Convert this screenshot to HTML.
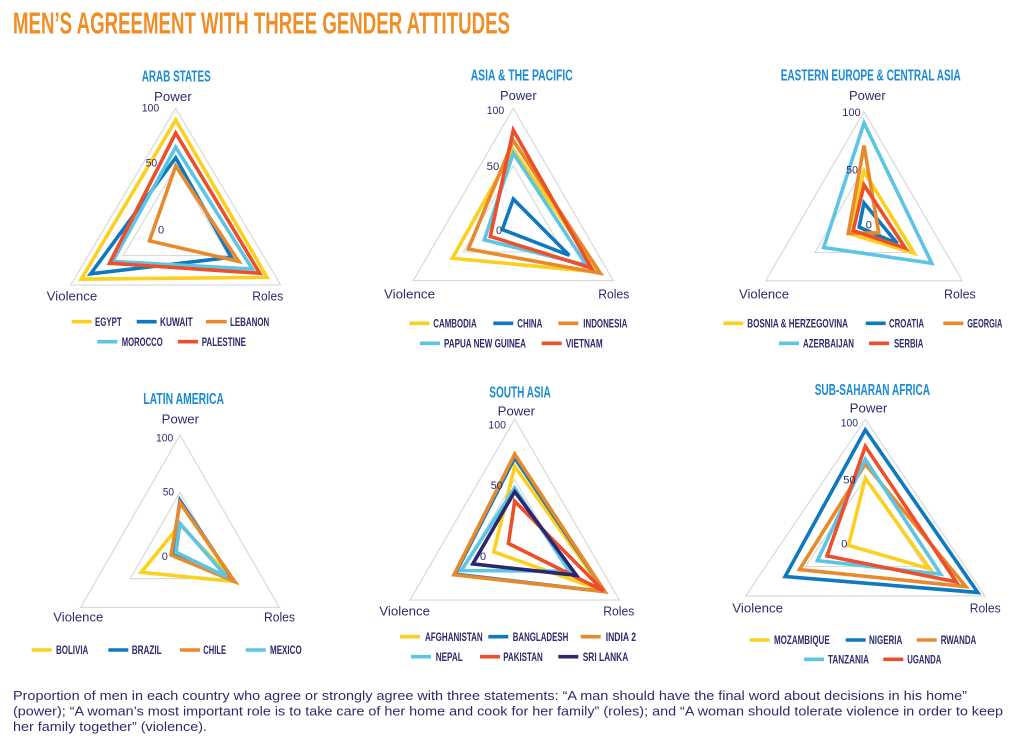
<!DOCTYPE html>
<html>
<head>
<meta charset="utf-8">
<style>
  html,body{margin:0;padding:0;background:#fff;}
  svg{display:block;}
  .t{font-family:"Liberation Sans Narrow","Liberation Sans",sans-serif;font-weight:bold;}
  .rt{font-family:"Liberation Sans Narrow","Liberation Sans",sans-serif;font-weight:bold;fill:#1b8bd2;font-size:15.5px;}
  .ax{font-family:"Liberation Sans",sans-serif;fill:#2d2b6b;font-size:13px;}
  .tk{font-family:"Liberation Sans",sans-serif;fill:#2d2b6b;font-size:11px;}
  .lg{font-family:"Liberation Sans Narrow","Liberation Sans",sans-serif;font-weight:bold;fill:#2d2b6b;font-size:11.5px;}
  .cap{font-family:"Liberation Sans",sans-serif;fill:#2d2b6b;font-size:13px;}
  .grid{fill:none;stroke:#d9d9d9;stroke-width:1.2;vector-effect:non-scaling-stroke;}
  .s{fill:none;stroke-width:3.6;vector-effect:non-scaling-stroke;stroke-linejoin:miter;}
  .y{stroke:#fcd01e;} .b{stroke:#0f79c0;} .o{stroke:#e88a2c;} .l{stroke:#5cc5e3;} .r{stroke:#ed4f2b;} .n{stroke:#2a2670;}
  .sw{stroke-width:3.6;}
</style>
</head>
<body>
<svg width="1024" height="741" viewBox="0 0 1024 741" xmlns="http://www.w3.org/2000/svg">
<rect width="1024" height="741" fill="#fff"/>

<text class="t" x="13" y="33.5" font-size="30.5" fill="#ef8e26" textLength="497" lengthAdjust="spacingAndGlyphs">MEN’S AGREEMENT WITH THREE GENDER ATTITUDES</text>

<!-- ============ ARAB STATES ============ -->
<text class="rt" x="141.7" y="81.7" textLength="69" lengthAdjust="spacingAndGlyphs">ARAB STATES</text>
<g transform="translate(175.7,226.1) scale(1.05,1.178)">
  <polygon class="grid" points="0,-100 100,50 -100,50"/>
  <polygon class="grid" points="0,-50 50,25 -50,25"/>
  <polygon class="s y" points="0,-90 87,43.5 -90,45"/>
  <polygon class="s b" points="0,-58 53,26.5 -81,40.5"/>
  <polygon class="s o" points="0,-51 60,30 -25,12.5"/>
  <polygon class="s l" points="0,-67 73,36.5 -60,30"/>
  <polygon class="s r" points="0,-79 80,40 -63,31.5"/>
</g>
<text class="ax" x="154" y="101" textLength="37.7" lengthAdjust="spacingAndGlyphs">Power</text>
<text class="ax" x="46.7" y="300.7" textLength="50.6" lengthAdjust="spacingAndGlyphs">Violence</text>
<text class="ax" x="252.3" y="300.7" textLength="31" lengthAdjust="spacingAndGlyphs">Roles</text>
<text class="tk" x="141.7" y="111.7" textLength="17.6" lengthAdjust="spacingAndGlyphs">100</text>
<text class="tk" x="145.7" y="166.7" textLength="11.5" lengthAdjust="spacingAndGlyphs">50</text>
<text class="tk" x="158" y="233.3">0</text>
<line class="y sw" x1="71.7" y1="321.7" x2="91.7" y2="321.7"/>
<text class="lg" x="95" y="325.8" textLength="26.7" lengthAdjust="spacingAndGlyphs">EGYPT</text>
<line class="b sw" x1="136.7" y1="321.7" x2="156.7" y2="321.7"/>
<text class="lg" x="160" y="325.8" textLength="32.7" lengthAdjust="spacingAndGlyphs">KUWAIT</text>
<line class="o sw" x1="206" y1="321.7" x2="226.7" y2="321.7"/>
<text class="lg" x="230" y="325.8" textLength="39.3" lengthAdjust="spacingAndGlyphs">LEBANON</text>
<line class="l sw" x1="97.3" y1="341.7" x2="117.3" y2="341.7"/>
<text class="lg" x="121.7" y="345.8" textLength="41" lengthAdjust="spacingAndGlyphs">MOROCCO</text>
<line class="r sw" x1="178" y1="341.7" x2="198" y2="341.7"/>
<text class="lg" x="201.7" y="345.8" textLength="44.3" lengthAdjust="spacingAndGlyphs">PALESTINE</text>

<!-- ============ ASIA & THE PACIFIC ============ -->
<text class="rt" x="470.7" y="80.7" textLength="102" lengthAdjust="spacingAndGlyphs">ASIA &amp; THE PACIFIC</text>
<g transform="translate(513.3,223.2) scale(1.0,1.149)">
  <polygon class="grid" points="0,-100 100,50 -100,50"/>
  <polygon class="grid" points="0,-50 50,25 -50,25"/>
  <polygon class="s y" points="0,-64 85,42.5 -61,30.5"/>
  <polygon class="s b" points="0,-21 56,28 -11,5.5"/>
  <polygon class="s o" points="0,-72 87,43.5 -45,22.5"/>
  <polygon class="s l" points="0,-61 73,36.5 -29,14.5"/>
  <polygon class="s r" points="0,-81 78,39 -23,11.5"/>
</g>
<text class="ax" x="500" y="100" textLength="36.7" lengthAdjust="spacingAndGlyphs">Power</text>
<text class="ax" x="384" y="298.3" textLength="51" lengthAdjust="spacingAndGlyphs">Violence</text>
<text class="ax" x="598.3" y="298.3" textLength="31" lengthAdjust="spacingAndGlyphs">Roles</text>
<text class="tk" x="486.7" y="114" textLength="17.6" lengthAdjust="spacingAndGlyphs">100</text>
<text class="tk" x="486.7" y="170" textLength="12.6" lengthAdjust="spacingAndGlyphs">50</text>
<text class="tk" x="496" y="234">0</text>
<line class="y sw" x1="409.3" y1="323.3" x2="429.3" y2="323.3"/>
<text class="lg" x="433.3" y="327.4" textLength="43.4" lengthAdjust="spacingAndGlyphs">CAMBODIA</text>
<line class="b sw" x1="493.3" y1="323.3" x2="513.3" y2="323.3"/>
<text class="lg" x="517.3" y="327.4" textLength="25" lengthAdjust="spacingAndGlyphs">CHINA</text>
<line class="o sw" x1="558.3" y1="323.3" x2="578.3" y2="323.3"/>
<text class="lg" x="583.3" y="327.4" textLength="44" lengthAdjust="spacingAndGlyphs">INDONESIA</text>
<line class="l sw" x1="420" y1="343.3" x2="440" y2="343.3"/>
<text class="lg" x="444" y="347.4" textLength="82" lengthAdjust="spacingAndGlyphs">PAPUA NEW GUINEA</text>
<line class="r sw" x1="541.7" y1="343.3" x2="561.7" y2="343.3"/>
<text class="lg" x="565.7" y="347.4" textLength="37" lengthAdjust="spacingAndGlyphs">VIETNAM</text>

<!-- ============ EASTERN EUROPE & CENTRAL ASIA ============ -->
<text class="rt" x="780.7" y="80.7" textLength="180" lengthAdjust="spacingAndGlyphs">EASTERN EUROPE &amp; CENTRAL ASIA</text>
<g transform="translate(864,224.4) scale(0.983,1.127)">
  <polygon class="grid" points="0,-100 100,50 -100,50"/>
  <polygon class="grid" points="0,-50 50,25 -50,25"/>
  <polygon class="s y" points="0,-47 51,25.5 -16,8"/>
  <polygon class="s b" points="0,-19 34,17 -5,2.5"/>
  <polygon class="s o" points="0,-70 15,7.5 -16,8"/>
  <polygon class="s l" points="0,-90 69,34.5 -41,20.5"/>
  <polygon class="s r" points="0,-35 42,21 -11,5.5"/>
</g>
<text class="ax" x="849" y="100" textLength="36.7" lengthAdjust="spacingAndGlyphs">Power</text>
<text class="ax" x="739" y="298.3" textLength="50" lengthAdjust="spacingAndGlyphs">Violence</text>
<text class="ax" x="944" y="298.3" textLength="31.7" lengthAdjust="spacingAndGlyphs">Roles</text>
<text class="tk" x="842.3" y="116" textLength="18.4" lengthAdjust="spacingAndGlyphs">100</text>
<text class="tk" x="846.3" y="173.3" textLength="11.7" lengthAdjust="spacingAndGlyphs">50</text>
<text class="tk" x="865.7" y="228.3">0</text>
<line class="y sw" x1="723.3" y1="323.3" x2="743.3" y2="323.3"/>
<text class="lg" x="747.3" y="327.4" textLength="100.7" lengthAdjust="spacingAndGlyphs">BOSNIA &amp; HERZEGOVINA</text>
<line class="b sw" x1="865.7" y1="323.3" x2="885.7" y2="323.3"/>
<text class="lg" x="889" y="327.4" textLength="35" lengthAdjust="spacingAndGlyphs">CROATIA</text>
<line class="o sw" x1="943.3" y1="323.3" x2="963.3" y2="323.3"/>
<text class="lg" x="967.3" y="327.4" textLength="35" lengthAdjust="spacingAndGlyphs">GEORGIA</text>
<line class="l sw" x1="779" y1="343.3" x2="799" y2="343.3"/>
<text class="lg" x="803" y="347.4" textLength="51" lengthAdjust="spacingAndGlyphs">AZERBAIJAN</text>
<line class="r sw" x1="869" y1="343.3" x2="889" y2="343.3"/>
<text class="lg" x="894" y="347.4" textLength="29.3" lengthAdjust="spacingAndGlyphs">SERBIA</text>

<!-- ============ LATIN AMERICA ============ -->
<text class="rt" x="143.3" y="404" textLength="80.7" lengthAdjust="spacingAndGlyphs">LATIN AMERICA</text>
<g transform="translate(180,549.9) scale(0.993,1.149)">
  <polygon class="grid" points="0,-100 100,50 -100,50"/>
  <polygon class="grid" points="0,-50 50,25 -50,25"/>
  <polygon class="s y" points="0,-22 55,27.5 -39,19.5"/>
  <polygon class="s b" points="0,-43 54,27 -8,4"/>
  <polygon class="s o" points="0,-41 55,27.5 -9,4.5"/>
  <polygon class="s l" points="0,-23 47,23.5 -4,2"/>
</g>
<text class="ax" x="161.7" y="423.3" textLength="37.3" lengthAdjust="spacingAndGlyphs">Power</text>
<text class="ax" x="53.3" y="621.7" textLength="50" lengthAdjust="spacingAndGlyphs">Violence</text>
<text class="ax" x="264" y="621.7" textLength="31" lengthAdjust="spacingAndGlyphs">Roles</text>
<text class="tk" x="156" y="441.7" textLength="17.3" lengthAdjust="spacingAndGlyphs">100</text>
<text class="tk" x="162.7" y="495.7" textLength="11.3" lengthAdjust="spacingAndGlyphs">50</text>
<text class="tk" x="161.7" y="560">0</text>
<line class="y sw" x1="31.7" y1="650" x2="51.7" y2="650"/>
<text class="lg" x="56" y="654.1" textLength="32.3" lengthAdjust="spacingAndGlyphs">BOLIVIA</text>
<line class="b sw" x1="108.3" y1="650" x2="128.3" y2="650"/>
<text class="lg" x="131.7" y="654.1" textLength="30" lengthAdjust="spacingAndGlyphs">BRAZIL</text>
<line class="o sw" x1="180" y1="650" x2="200" y2="650"/>
<text class="lg" x="203.3" y="654.1" textLength="22.7" lengthAdjust="spacingAndGlyphs">CHILE</text>
<line class="l sw" x1="245.7" y1="650" x2="265.7" y2="650"/>
<text class="lg" x="270" y="654.1" textLength="31.7" lengthAdjust="spacingAndGlyphs">MEXICO</text>

<!-- ============ SOUTH ASIA ============ -->
<text class="rt" x="489.3" y="397.3" textLength="61.4" lengthAdjust="spacingAndGlyphs">SOUTH ASIA</text>
<g transform="translate(514.7,539.8) scale(1.047,1.205)">
  <polygon class="grid" points="0,-100 100,50 -100,50"/>
  <polygon class="grid" points="0,-50 50,25 -50,25"/>
  <polygon class="s y" points="0,-61 85,42.5 -20,10"/>
  <polygon class="s b" points="0,-68 86,43 -57,28.5"/>
  <polygon class="s o" points="0,-71 86,43 -58,29"/>
  <polygon class="s l" points="0,-43 52,26 -51,25.5"/>
  <polygon class="s r" points="0,-32 85,42.5 -6,3"/>
  <polygon class="s n" points="0,-40 59,29.5 -40,20"/>
</g>
<text class="ax" x="497.7" y="415.7" textLength="37.3" lengthAdjust="spacingAndGlyphs">Power</text>
<text class="ax" x="379.3" y="615.7" textLength="50.7" lengthAdjust="spacingAndGlyphs">Violence</text>
<text class="ax" x="603.3" y="615.7" textLength="31" lengthAdjust="spacingAndGlyphs">Roles</text>
<text class="tk" x="488.3" y="428.3" textLength="17.7" lengthAdjust="spacingAndGlyphs">100</text>
<text class="tk" x="490.7" y="489" textLength="12" lengthAdjust="spacingAndGlyphs">50</text>
<text class="tk" x="480" y="560">0</text>
<line class="y sw" x1="400" y1="636.7" x2="420" y2="636.7"/>
<text class="lg" x="425" y="640.8" textLength="57.7" lengthAdjust="spacingAndGlyphs">AFGHANISTAN</text>
<line class="b sw" x1="488.3" y1="636.7" x2="508.3" y2="636.7"/>
<text class="lg" x="512.7" y="640.8" textLength="55.6" lengthAdjust="spacingAndGlyphs">BANGLADESH</text>
<line class="o sw" x1="580.7" y1="636.7" x2="600.7" y2="636.7"/>
<text class="lg" x="605.7" y="640.8" textLength="30.3" lengthAdjust="spacingAndGlyphs">INDIA 2</text>
<line class="l sw" x1="411" y1="656.7" x2="431" y2="656.7"/>
<text class="lg" x="435.7" y="660.8" textLength="27" lengthAdjust="spacingAndGlyphs">NEPAL</text>
<line class="r sw" x1="480" y1="656.7" x2="500" y2="656.7"/>
<text class="lg" x="503.3" y="660.8" textLength="39.4" lengthAdjust="spacingAndGlyphs">PAKISTAN</text>
<line class="n sw" x1="558.3" y1="656.7" x2="578.3" y2="656.7"/>
<text class="lg" x="582.7" y="660.8" textLength="45.6" lengthAdjust="spacingAndGlyphs">SRI LANKA</text>

<!-- ============ SUB-SAHARAN AFRICA ============ -->
<text class="rt" x="814.7" y="395" textLength="115.3" lengthAdjust="spacingAndGlyphs">SUB-SAHARAN AFRICA</text>
<g transform="translate(865.3,537.1) scale(1.197,1.178)">
  <polygon class="grid" points="0,-100 100,50 -100,50"/>
  <polygon class="grid" points="0,-50 50,25 -50,25"/>
  <polygon class="s y" points="0,-50 54,27 -14,7"/>
  <polygon class="s b" points="0,-91 94,47 -67,33.5"/>
  <polygon class="s o" points="0,-62 84,42 -55,27.5"/>
  <polygon class="s l" points="0,-66 63,31.5 -40,20"/>
  <polygon class="s r" points="0,-77 76,38 -32,16"/>
</g>
<text class="ax" x="849.7" y="412.3" textLength="37.6" lengthAdjust="spacingAndGlyphs">Power</text>
<text class="ax" x="732.3" y="612.7" textLength="50.7" lengthAdjust="spacingAndGlyphs">Violence</text>
<text class="ax" x="969.7" y="612.7" textLength="31" lengthAdjust="spacingAndGlyphs">Roles</text>
<text class="tk" x="840.7" y="426.7" textLength="17.3" lengthAdjust="spacingAndGlyphs">100</text>
<text class="tk" x="843.3" y="483.3" textLength="12.4" lengthAdjust="spacingAndGlyphs">50</text>
<text class="tk" x="841.3" y="547.3">0</text>
<line class="y sw" x1="749.7" y1="640" x2="769.7" y2="640"/>
<text class="lg" x="774" y="644.1" textLength="55.7" lengthAdjust="spacingAndGlyphs">MOZAMBIQUE</text>
<line class="b sw" x1="845.7" y1="640" x2="865.7" y2="640"/>
<text class="lg" x="869" y="644.1" textLength="33.3" lengthAdjust="spacingAndGlyphs">NIGERIA</text>
<line class="o sw" x1="916.7" y1="640" x2="936.7" y2="640"/>
<text class="lg" x="940.7" y="644.1" textLength="35.6" lengthAdjust="spacingAndGlyphs">RWANDA</text>
<line class="l sw" x1="804" y1="659.3" x2="824" y2="659.3"/>
<text class="lg" x="828" y="663.4" textLength="41" lengthAdjust="spacingAndGlyphs">TANZANIA</text>
<line class="r sw" x1="883.3" y1="659.3" x2="903.3" y2="659.3"/>
<text class="lg" x="907.3" y="663.4" textLength="34" lengthAdjust="spacingAndGlyphs">UGANDA</text>

<!-- ============ CAPTION ============ -->
<text class="cap" x="13" y="700" textLength="954" lengthAdjust="spacingAndGlyphs">Proportion of men in each country who agree or strongly agree with three statements: “A man should have the final word about decisions in his home”</text>
<text class="cap" x="13" y="715.5" textLength="990" lengthAdjust="spacingAndGlyphs">(power); “A woman’s most important role is to take care of her home and cook for her family” (roles); and “A woman should tolerate violence in order to keep</text>
<text class="cap" x="13" y="731" textLength="194" lengthAdjust="spacingAndGlyphs">her family together” (violence).</text>
</svg>
</body>
</html>
